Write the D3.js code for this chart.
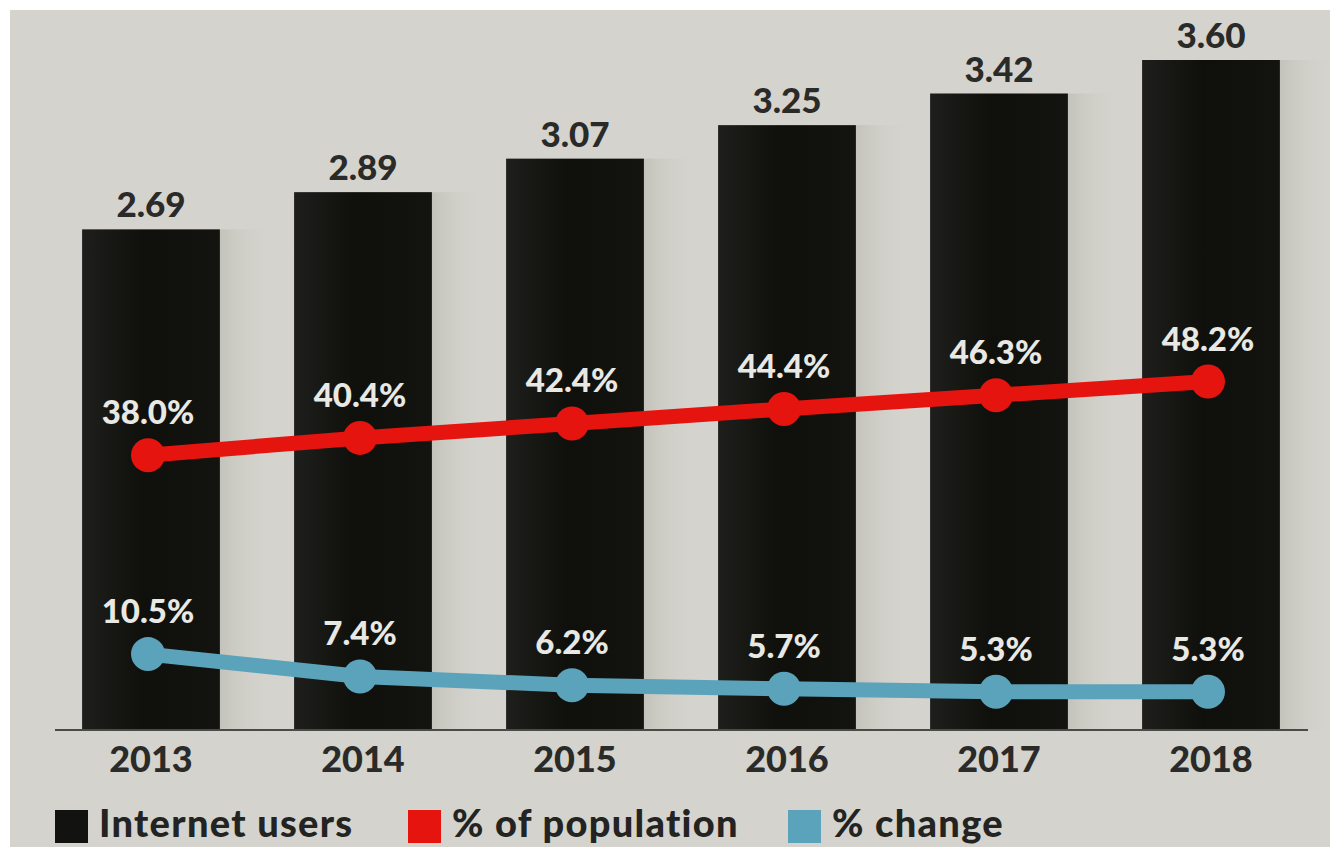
<!DOCTYPE html>
<html>
<head>
<meta charset="utf-8">
<script src="https://cdn.jsdelivr.net/npm/d3@7"></script>
<style>
  body { margin: 0; background: #fff; }
  svg { display: block; }
  text { font-family: Lato, "Open Sans", sans-serif; font-weight: 900; }
</style>
</head>
<body>
<svg width="1330" height="847"></svg>
<script>
var years = ["2013", "2014", "2015", "2016", "2017", "2018"];
var users = [2.69, 2.89, 3.07, 3.25, 3.42, 3.60];          // billions
var popShare = [38.0, 40.4, 42.4, 44.4, 46.3, 48.2];        // % of population
var change = [10.5, 7.4, 6.2, 5.7, 5.3, 5.3];               // % change
var legendItems = ["Internet users", "% of population", "% change"];

var svg = d3.select("svg"),
    baseY = 730;

var colors = { bar: "#121210", pop: "#e5140e", chg: "#5ba3bb", bg: "#d4d3cd" };

// fond
svg.append("rect")
    .attr("x", 10).attr("y", 10)
    .attr("width", 1320).attr("height", 837)
    .attr("fill", colors.bg);

var defs = svg.append("defs");
var g1 = defs.append("linearGradient").attr("id", "barGrad");
g1.append("stop").attr("offset", "0%").attr("stop-color", "#1e1f1c");
g1.append("stop").attr("offset", "45%").attr("stop-color", "#0f0f0b");
g1.append("stop").attr("offset", "100%").attr("stop-color", "#131310");
var g2 = defs.append("linearGradient").attr("id", "shadowGrad");
g2.append("stop").attr("offset", "0%").attr("stop-color", "#c4c3bb");
g2.append("stop").attr("offset", "100%").attr("stop-color", colors.bg).attr("stop-opacity", 0);

// échelles
var x = d3.scaleBand()
    .domain(years)
    .range([45, 1317])
    .paddingInner(0.35)
    .paddingOuter(0.175);

var y = d3.scaleLinear().domain([0, 3.6]).range([baseY, 60]);
var yPct = d3.scaleLinear().domain([0, 100]).range([730, 7]);

// ombres à droite des barres
svg.selectAll(".shadow")
    .data(years)
    .enter().append("rect")
    .attr("class", "shadow")
    .attr("x", function(d) { return x(d) + x.bandwidth(); })
    .attr("y", function(d, i) { return y(users[i]); })
    .attr("width", 55)
    .attr("height", function(d, i) { return baseY - y(users[i]); })
    .attr("fill", "url(#shadowGrad)");

// barres
svg.selectAll(".bar")
    .data(years)
    .enter().append("rect")
    .attr("class", "bar")
    .attr("x", function(d) { return x(d); })
    .attr("y", function(d, i) { return y(users[i]); })
    .attr("width", x.bandwidth())
    .attr("height", function(d, i) { return baseY - y(users[i]); })
    .attr("fill", "url(#barGrad)");

// valeurs au-dessus des barres
svg.selectAll(".val")
    .data(years)
    .enter().append("text")
    .attr("class", "val")
    .attr("x", function(d) { return x(d) + x.bandwidth() / 2; })
    .attr("y", function(d, i) { return y(users[i]) - 12; })
    .attr("text-anchor", "middle")
    .attr("font-size", 35)
    .attr("fill", "#2a2a28")
    .text(function(d, i) { return users[i].toFixed(2); });

// axe x
var xAxis = d3.axisBottom(x).tickSize(0).tickPadding(16);
var ax = svg.append("g")
    .attr("transform", "translate(0," + baseY + ")")
    .call(xAxis);
ax.select(".domain").remove();
ax.selectAll("text")
    .attr("font-size", 36)
    .attr("fill", "#2a2a28")
    .attr("dy", "0.71em");
svg.append("line")
    .attr("x1", 55).attr("x2", 1308)
    .attr("y1", baseY).attr("y2", baseY)
    .attr("stroke", "#4a4a46").attr("stroke-width", 2);

// lignes
function drawSeries(values, color) {
    var line = d3.line()
        .x(function(d, i) { return x(years[i]) + x.bandwidth() / 2 - 3; })
        .y(function(d) { return yPct(d); });
    svg.append("path")
        .datum(values)
        .attr("d", line)
        .attr("fill", "none")
        .attr("stroke", color)
        .attr("stroke-width", 15);
    svg.selectAll(null)
        .data(values)
        .enter().append("circle")
        .attr("cx", function(d, i) { return x(years[i]) + x.bandwidth() / 2 - 3; })
        .attr("cy", function(d) { return yPct(d); })
        .attr("r", 17)
        .attr("fill", color);
    svg.selectAll(null)
        .data(values)
        .enter().append("text")
        .attr("x", function(d, i) { return x(years[i]) + x.bandwidth() / 2 - 3; })
        .attr("y", function(d) { return yPct(d) - 31; })
        .attr("text-anchor", "middle")
        .attr("font-size", 33)
        .attr("fill", "#e8e8e4")
        .text(function(d) { return d.toFixed(1) + "%"; });
}
drawSeries(popShare, colors.pop);
drawSeries(change, colors.chg);

// légende
var legendColors = [colors.bar, colors.pop, colors.chg],
    legendX = [55, 408, 788];
var lg = svg.selectAll(".leg")
    .data(legendItems)
    .enter().append("g")
    .attr("class", "leg")
    .attr("transform", function(d, i) { return "translate(" + legendX[i] + ",810)"; });
lg.append("rect")
    .attr("width", 33).attr("height", 33)
    .attr("fill", function(d, i) { return legendColors[i]; });
lg.append("text")
    .attr("x", 44).attr("y", 27)
    .attr("font-size", 38)
    .attr("letter-spacing", 1.3)
    .attr("fill", "#232321")
    .text(function(d) { return d; });
</script>
</body>
</html>
